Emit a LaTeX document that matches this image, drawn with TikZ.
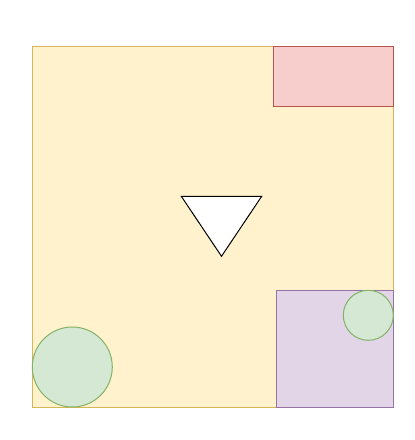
\documentclass[tikz,border=0pt]{standalone}
\usepackage{xcolor}
\usepackage{tikz}
\definecolor{yellowfill}{HTML}{FFF2CC}
\definecolor{yellowline}{HTML}{D6B656}
\definecolor{redfill}{HTML}{F8CECC}
\definecolor{redline}{HTML}{B85450}
\definecolor{purplefill}{HTML}{E1D5E7}
\definecolor{purpleline}{HTML}{9673A6}
\definecolor{greenfill}{HTML}{D5E8D4}
\definecolor{greenline}{HTML}{82B366}
\begin{document}
\begin{tikzpicture}[x=1pt, y=-1pt,
          area/.style={rectangle, inner sep=0pt, outer sep=0pt, line width=1pt},
          blob/.style={circle, inner sep=0pt, outer sep=0pt, line width=1pt,
                       draw=greenline, fill=greenfill}
        ]
        \useasboundingbox (0,0) rectangle (415,440);
        \node[area, draw=yellowline, fill=yellowfill, minimum width=361pt, minimum height=361pt] (field) at (212.5,226.5) {};
        \node[area, draw=redline, fill=redfill, minimum width=120pt, minimum height=60pt] (corner) at (333.3,76.3) {};
        \node[area, draw=purpleline, fill=purplefill, minimum width=117pt, minimum height=117pt] (pen) at (334.8,348.7) {};
        \node[blob, minimum size=50pt] (small) at (368.3,315.3) {};
        \node[blob, minimum size=80pt] (big) at (72.3,367) {};
        \draw[line width=1pt, fill=white, line join=miter] (181.3,196.3) -- (261.7,196.3) -- (221.5,256.3) -- cycle;
      \end{tikzpicture}
\end{document}
